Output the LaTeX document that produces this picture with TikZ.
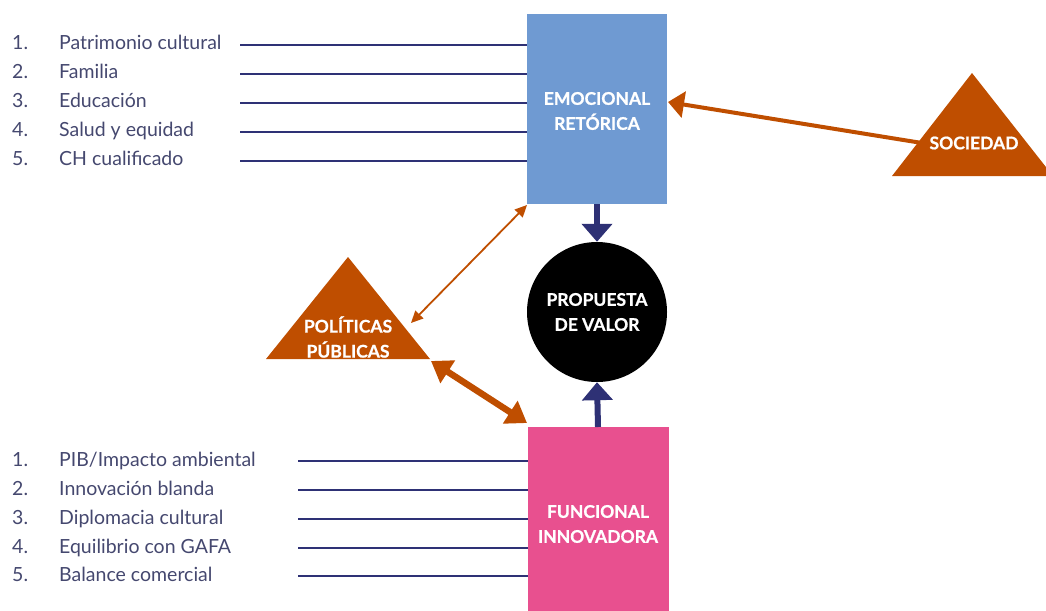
\documentclass[tikz,border=0pt]{standalone}
\usepackage{fontspec}
\setmainfont{Lato}
\newfontfamily\lblfont{Lato}[FakeBold=0.8]
\usetikzlibrary{arrows.meta}
\definecolor{navy}{HTML}{2E3175}
\definecolor{orng}{HTML}{BF4E00}
\definecolor{bluebox}{HTML}{6F9AD2}
\definecolor{pinkbox}{HTML}{E8508F}
\definecolor{txt}{HTML}{45486F}
\tikzset{
  item/.style={anchor=base west, text=txt, font=\fontsize{19.5}{19.5}\selectfont, inner sep=0pt},
  lbl/.style={text=white, font=\lblfont\bfseries\fontsize{17.5}{25}\selectfont, align=center},
  lnk/.style={navy, line width=1.4pt},
  bigarrow/.style={navy, line width=6pt, -{Triangle[width=30pt,length=18pt]}},
}
\begin{document}
\begin{tikzpicture}[x=1pt,y=-1pt]
\useasboundingbox (0,0) rectangle (1046,610);
\clip (0,0) rectangle (1046,610);
% boxes
\fill[bluebox] (527,14) rectangle (667,204);
\node[lbl] (emo) at (597,111) {EMOCIONAL\\RETÓRICA};
\coordinate (emoR) at (668,102);
\coordinate (emoB) at (597,204);
\coordinate (emoBL) at (527,205);
\fill[pinkbox] (528,427) rectangle (669,612);
\node[lbl] (fun) at (598,524) {FUNCIONAL\\INNOVADORA};
\coordinate (funT) at (598,427);
\coordinate (funTL) at (527,423);
% circle
\node[circle, fill=black, minimum size=140pt, inner sep=0pt] (pv) at (597,312) {};
\node[lbl] (pvt) at (597,312) {PROPUESTA\\DE VALOR};
% triangles
\fill[orng] (972,73) -- (892,176) -- (1053,176) -- cycle;
\node[lbl] (soc) at (974,143) {SOCIEDAD};
\coordinate (socL) at (922,143);
\fill[orng] (348,257) -- (266,359) -- (430,359) -- cycle;
\node[lbl] (pol) at (348,337) {POLÍTICAS\\PÚBLICAS};
\coordinate (polR) at (411,323);
\coordinate (polB) at (431,361);
% arrows
\draw[bigarrow] (emoB) -- (pv.north);
\draw[bigarrow] (funT) -- (pv.south);
\draw[orng, line width=4pt, -{Triangle[width=26pt,length=16pt]}] (socL) -- (emoR);
\draw[orng, line width=1.8pt, {Triangle[width=11pt,length=12pt]}-{Triangle[width=11pt,length=12pt]}] (polR) -- (emoBL);
\draw[orng, line width=6.5pt, {Triangle[width=26pt,length=20pt]}-{Triangle[width=26pt,length=20pt]}] (polB) -- (funTL);
% top list
\foreach \n/\t/\y/\x in {1/Patrimonio cultural/49/240, 2/Familia/78/240, 3/Educación/107/240, 4/Salud y equidad/136/240, 5/CH cualificado/165/240}{
  \node[item] (tn\n) at (12,\y) {\n.};
  \node[item] (tt\n) at (59,\y) {\t};
  \coordinate (ta\n) at (\x,\y-4);
  \coordinate (tb\n) at (527,\y-4);
  \draw[lnk] (ta\n) -- (tb\n);
}
% bottom list
\foreach \n/\t/\y in {1/{PIB/Impacto ambiental}/466, 2/Innovación blanda/495, 3/Diplomacia cultural/524, 4/Equilibrio con GAFA/553, 5/Balance comercial/581}{
  \node[item] (bn\n) at (12,\y) {\n.};
  \node[item] (bt\n) at (59,\y) {\t};
  \coordinate (ba\n) at (298,\y-5);
  \coordinate (bb\n) at (528,\y-5);
  \draw[lnk] (ba\n) -- (bb\n);
}
\end{tikzpicture}
\end{document}
